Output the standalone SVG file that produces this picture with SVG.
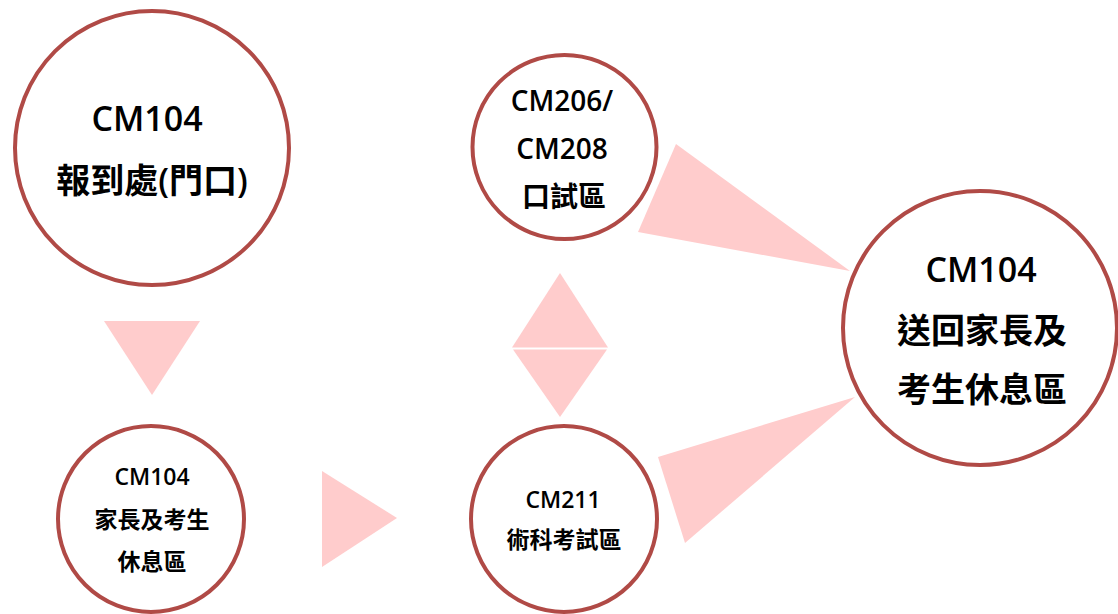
<svg xmlns="http://www.w3.org/2000/svg" width="1118" height="614" viewBox="0 0 1118 614">
<style>
.node{fill:#ffffff;stroke:#B04A46;stroke-width:4}
.arrow{fill:#FFCCCC;stroke:none}
text{font-family:"Open Sans","Noto Sans CJK TC","Noto Sans CJK SC",sans-serif;font-weight:600;fill:#000;text-anchor:middle}
.big{font-size:34px}
.mid{font-size:28px}
.small{font-size:23px}
</style>
<rect width="1118" height="614" fill="#ffffff"/>
<g id="connectors">
<polygon class="arrow" points="104,321 200,321 152,395"/>
<polygon class="arrow" points="322,471 397,518 322,567"/>
<polygon class="arrow" points="560,273 608,347.5 512,347.5"/>
<polygon class="arrow" points="513,349.5 607,349.5 560,417"/>
<polygon class="arrow" points="676,144 850,271 638,232"/>
<polygon class="arrow" points="658,457 855,397 685,543"/>
</g>
<g id="node-checkin">
<circle class="node" cx="152" cy="148" r="137"/>
<text class="big" x="147" y="131">CM104</text>
<text class="big" x="152" y="193">報到處(門口)</text>
</g>
<g id="node-waiting">
<circle class="node" cx="151" cy="519" r="93"/>
<text class="small" x="152" y="485">CM104</text>
<text class="small" x="152" y="528">家長及考生</text>
<text class="small" x="152" y="570">休息區</text>
</g>
<g id="node-oral">
<circle class="node" cx="564.5" cy="147" r="92"/>
<text class="mid" x="562" y="111">CM206/</text>
<text class="mid" x="562" y="159">CM208</text>
<text class="mid" x="564" y="207">口試區</text>
</g>
<g id="node-skill">
<circle class="node" cx="564" cy="519" r="93"/>
<text class="small" x="563" y="508">CM211</text>
<text class="small" x="564" y="548">術科考試區</text>
</g>
<g id="node-return">
<circle class="node" cx="980" cy="328" r="137"/>
<text class="big" x="981" y="282">CM104</text>
<text class="big" x="982" y="343">送回家長及</text>
<text class="big" x="982" y="402">考生休息區</text>
</g>
</svg>
